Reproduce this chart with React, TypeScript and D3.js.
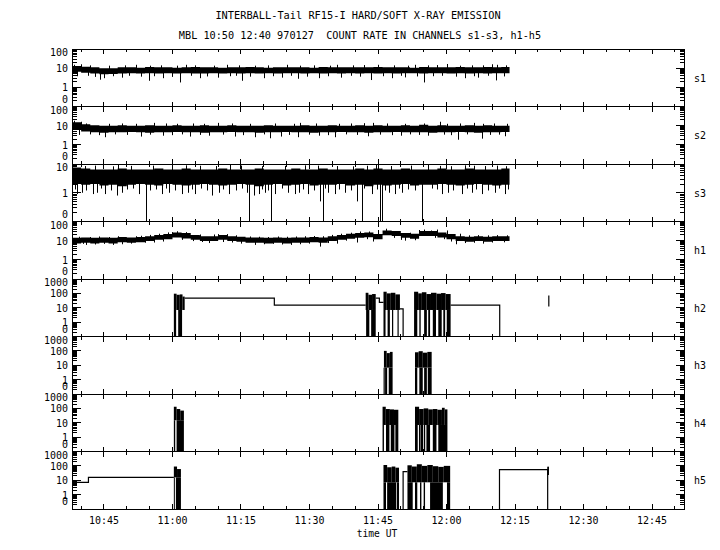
import React from 'react';
import * as d3 from 'd3';

// ---------- layout ----------
const W = 720, H = 550;
const PLOT = { left: 72, right: 684, top: 49, bottom: 509 };
const T_START = 38; // minutes after 10:00 UT
const T_END = 172;

// ---------- axes ----------
const panelNames = ['s1', 's2', 's3', 'h1', 'h2', 'h3', 'h4', 'h5'];
const panelTopExp = [2, 2, 1, 2, 3, 3, 3, 3];
const expLabels: Record<string, string> = { '-1': '0', '0': '1', '1': '10', '2': '100', '3': '1000' };
const majorTickMinutes = [45, 60, 75, 90, 105, 120, 135, 150, 165];
const majorTickLabels = ['10:45', '11:00', '11:15', '11:30', '11:45', '12:00', '12:15', '12:30', '12:45'];
const minorTickMinutes = [40, 50, 55, 65, 70, 80, 85, 95, 100, 110, 115, 125, 130, 140, 145, 155, 160, 170];

// ---------- noisy channels: envelope on a 2-minute grid ----------
const gridT = [38, 40, 42, 44, 46, 48, 50, 52, 54, 56,
  58, 60, 62, 64, 66, 68, 70, 72, 74, 76,
  78, 80, 82, 84, 86, 88, 90, 92, 94, 96,
  98, 100, 102, 104, 106, 108, 110, 112, 114, 116,
  118, 120, 122, 124, 126, 128, 130, 132, 133.8];

const s1Hi = [13, 12, 11, 10, 10, 11, 11, 10.5, 11.5, 11,
  11, 10.5, 11, 11.5, 11, 11, 10.5, 11, 11, 11.5,
  11, 10.5, 11, 11, 11, 11, 10.5, 11.5, 11, 11,
  11, 11, 11, 11.5, 11, 11, 11, 10.5, 11.5, 11,
  11, 11, 11.5, 11, 11, 11.5, 11, 11.5, 11.5];
const s1Lo = [6.5, 5.8, 5.2, 4.8, 5, 5.3, 5.5, 5.2, 5.5, 5.3,
  5.5, 5.2, 5.4, 5.3, 5.2, 5.5, 5.3, 5.5, 5.2, 5.5,
  5.2, 5.5, 5.3, 5.5, 5.5, 5.2, 5.5, 5.3, 5.5, 5.2,
  5.5, 5.2, 5.5, 5.3, 5.5, 5.2, 5.5, 5.5, 5.2, 5.5,
  5.5, 5.2, 5.5, 5.3, 5.5, 5.2, 5.5, 5.5, 5.5];
const s1WhiskT = [44.1, 45, 49, 54.9, 58, 61.6, 66, 70, 75.2, 80, 84, 87.5, 92, 97, 103.5, 108, 111, 115.1, 124, 127, 130.8,
  40, 52, 63, 72, 85, 96, 105, 113, 120, 129.9,
  39, 41.5, 43, 47, 50.5, 53, 56, 60, 64, 67.5, 72.6, 74, 77, 82, 86, 89.5, 94, 99, 101, 106, 110, 113.5, 117, 119, 122, 126, 129, 132.5,
  38.5, 42, 46, 49.5, 55, 57.5, 61, 65, 69, 74.5, 78, 81, 88, 91, 94.5, 99.5, 102, 108.5, 111.5, 116, 118, 123, 125.5, 128, 131, 133];
const s1WhiskV = [2.5, 3, 3.2, 2.2, 3, 1.8, 3, 3.2, 2.2, 3, 3.2, 2.8, 3, 3.2, 2.4, 3, 3.3, 1.8, 3, 3.2, 2.3,
  16, 15, 15, 15, 15, 15, 15, 15, 16.5, 16,
  3.8, 4, 3.5, 3.8, 4, 3.6, 3.8, 3.5, 4, 3.7, 3.8, 4, 3.6, 3.8, 4, 3.6, 3.8, 4, 3.6, 3.8, 4, 3.7, 3.8, 4, 3.6, 3.8, 4, 3.7,
  15, 14, 13.5, 14, 13.5, 14, 13.5, 14, 13.5, 14, 13.5, 14, 13.5, 14, 13.5, 14, 14.5, 14, 13.5, 14, 14.5, 13.5, 14, 14, 15, 14];

const s2Hi = [15, 12, 10.5, 10, 10, 10.5, 10, 10, 10.5, 10,
  10, 10.5, 10, 10, 10.5, 10, 10, 10.5, 10, 10,
  10, 10.5, 10, 10, 10, 10.5, 10, 10, 10.5, 10,
  10, 10.5, 10, 10.5, 10, 10, 10.5, 10, 11, 10,
  10.5, 10, 10, 10.5, 10, 10.5, 10, 10, 10];
const s2Lo = [6, 5, 4.5, 4.3, 4.5, 4.5, 4.7, 4.5, 4.3, 4.5,
  4.5, 4.7, 4.5, 4.5, 4.3, 4.5, 4.5, 4.7, 4.5, 4.5,
  4.3, 4.5, 4.5, 4.7, 4.5, 4.5, 4.3, 4.5, 4.5, 4.7,
  4.5, 4.5, 4.3, 4.5, 4.5, 4.7, 4.5, 4.5, 4.5, 4.3,
  4.5, 4.5, 4.7, 4.5, 4.3, 4.5, 4.5, 4.7, 4.5];
const s2WhiskT = [45.2, 53.2, 58, 63.8, 68, 73.6, 78, 81.3, 83.8, 87.5, 92, 95.5, 102.8, 110, 116, 122.5, 127.8, 132.8,
  38.5, 40, 56, 70, 88, 104, 118.6, 126,
  39.5, 42, 44, 47.5, 50, 55, 60, 62, 66, 71, 75.5, 80, 85.5, 90, 94, 98, 100.5, 105.5, 108, 112, 114, 119.5, 121, 124.5, 129.5, 131.5,
  41, 46, 49, 52, 58.5, 61, 64.5, 67, 73, 77, 82.5, 86.5, 91.5, 96.5, 99, 102, 107, 111, 115, 120, 123, 128, 130.5, 133.3];
const s2WhiskV = [2.5, 2.7, 3, 2.7, 3, 2.7, 2.5, 2.2, 2.7, 2.5, 3, 2.5, 2.8, 3, 3, 1.85, 2.1, 2.8,
  18, 16, 14, 14, 14, 14, 16, 14,
  3.3, 3.5, 3.2, 3.5, 3.3, 3.4, 3.2, 3.5, 3.3, 3.4, 3.2, 3.5, 3.3, 3.4, 3.2, 3.5, 3.3, 3.4, 3.2, 3.5, 3.3, 3.4, 3.2, 3.5, 3.3, 3.4,
  13, 12.5, 13, 12.5, 13, 12.5, 13, 12.5, 13, 12.5, 13, 12.5, 13, 12.5, 13, 13.5, 13, 12.5, 13, 12.5, 13, 12.5, 13, 12.5];

const s3Hi = [7.5, 7, 6.5, 6.5, 6.5, 7, 6.5, 6.5, 6.5, 7,
  6.5, 6.5, 7, 6.5, 6.5, 6.5, 7, 6.5, 6.5, 6.5,
  7, 6.5, 6.5, 6.5, 7, 6.5, 6.5, 7, 6.5, 6.5,
  6.5, 7, 6.5, 7, 6.5, 6.5, 7, 6.5, 6.5, 6.5,
  7, 6.5, 6.5, 7, 6.5, 6.5, 6.5, 7, 7];
const s3Lo = [2, 1.9, 2, 1.8, 1.9, 1.7, 1.9, 2, 1.9, 1.8,
  2, 1.9, 1.8, 1.9, 2, 1.9, 1.8, 1.9, 2, 1.9,
  1.7, 1.9, 2, 1.8, 1.9, 2, 1.8, 1.9, 1.9, 2,
  1.8, 1.9, 1.7, 1.9, 1.8, 1.9, 2, 1.8, 1.9, 1.9,
  2, 1.9, 1.8, 1.9, 2, 1.9, 1.8, 1.9, 1.9];
const s3WhiskT = [39.1, 40.2, 42.7, 43.5, 45.3, 47.9, 48.9, 52.6, 57.7, 59.2, 62.1, 63.5, 65, 68.7, 70.1, 72.3, 76.3, 77.8,
  78.9, 80.3, 82.5, 85.4, 86.9, 87.6, 89.7, 92.3, 94.1, 95.6, 97.8, 100.3, 103.6, 107.3, 108.7, 110.2, 114.6, 119,
  120.4, 123.3, 125.5, 127.7, 130.6, 132.8,
  54.2, 76.8, 81.6, 93.0, 101.4, 105.4, 105.8, 114.7,
  48, 63, 72.5, 89, 104.5, 116, 124,
  38.6, 41, 44.3, 46.5, 50, 51.3, 55, 56.3, 58.5, 60.5, 64.2, 66.3, 67.5, 71, 74, 75.2, 79.6, 81, 84, 88.5, 91, 93.5, 96.5, 99, 102, 104.8, 106.5, 109.5, 111.5, 113, 116.8, 118, 121.5, 124.5, 126.5, 129, 131.5, 133.4,
  40.8, 43, 47, 51, 55.8, 59.8, 66, 69.5, 75, 79.5, 84.7, 91.8, 96, 99.6, 102.7, 107.9, 112.2, 118.6, 121, 126, 128.5, 131, 133];
const s3WhiskV = [0.9, 1, 0.9, 1, 0.9, 0.8, 1, 0.9, 0.9, 1, 0.9, 1, 0.9, 0.8, 1, 0.9, 1, 0.8,
  0.9, 1, 0.9, 1, 0.9, 1, 0.9, 0.5, 1, 0.9, 1, 0.5, 0.9, 1, 0.9, 1, 0.9, 0.9,
  1, 0.9, 1, 0.9, 1, 0.9,
  0, 0, 0, 0, 0, 0, 0, 0,
  9.5, 9, 9.5, 9, 10, 9.5, 9,
  1.3, 1.2, 1.4, 1.2, 1.3, 1.4, 1.2, 1.3, 1.4, 1.2, 1.3, 1.4, 1.2, 1.3, 1.2, 1.4, 1.3, 1.2, 1.4, 1.3, 1.2, 1.4, 1.3, 1.2, 1.4, 1.3, 1.2, 1.4, 1.3, 1.2, 1.4, 1.3, 1.2, 1.4, 1.3, 1.2, 1.4, 1.3,
  8.5, 8.8, 8.3, 8.6, 8.8, 8.4, 8.7, 8.5, 8.8, 8.4, 8.6, 8.8, 8.5, 8.3, 8.7, 8.5, 8.8, 8.6, 8.4, 8.7, 8.5, 8.8, 8.4];

const h1Hi = [14, 14.5, 14, 14.5, 14, 15.5, 14.5, 15.5, 17, 20,
  22, 27, 25, 20, 17, 17, 20, 17, 16, 14.5,
  14.5, 14, 14.5, 14, 14.5, 14.5, 15.5, 14.5, 17, 20,
  23, 25, 27, 22, 34, 32, 25, 23, 32, 32,
  27, 22, 17, 16, 17, 16, 17, 17, 17];
const h1Lo = [7.2, 7.8, 7.2, 7.8, 7.2, 8.3, 7.8, 8.3, 9.5, 11,
  11.7, 14.5, 13, 11, 9.5, 9.5, 11, 9.5, 8.7, 7.8,
  7.8, 7.2, 7.8, 7.2, 7.8, 7.8, 8.3, 7.8, 9.5, 11,
  12.5, 14, 15, 11.7, 19, 17.5, 14, 12.5, 17.5, 17.5,
  14.5, 11.7, 9.5, 8.7, 9.5, 8.7, 9.5, 9.5, 9.5];
const h1WhiskT = [41, 47, 56, 68, 78, 86, 92.4, 96, 100.4, 104, 111, 122, 128, 52, 60, 70, 101, 106.8, 114, 116.5,
  38.6, 40.5, 43, 45, 49, 51, 54, 58, 62, 64.5, 66.5, 71, 73, 75, 80, 82, 84, 88, 90, 94, 98, 102.5, 108.5, 110, 113, 117.5, 119.5, 121, 124, 126, 130, 132.5,
  39.5, 42, 44, 46, 48, 53, 55, 57, 59, 61, 63, 66, 69, 72, 74, 77, 79, 81, 83, 85, 87, 89, 91, 93, 95, 97, 99, 103, 105, 109, 112, 115, 118, 120, 123, 125, 127, 129, 131, 133.3];
const h1WhiskV = [6, 6, 8, 7.5, 6, 6, 4.9, 7, 8, 9, 10, 6.5, 7, 17, 28, 22, 30, 42, 36, 34,
  6.5, 6.8, 6.3, 6.8, 6.5, 7, 7.8, 9, 11, 9.5, 8.5, 8.5, 8, 7, 6.5, 6.8, 6.3, 6.5, 7, 7.5, 10, 12, 14, 11, 10.5, 14, 12, 9, 7.5, 7.8, 8, 8.2,
  16, 15.5, 16.5, 15.5, 17, 18, 20, 23, 27, 31, 28, 21, 21, 22, 19, 16.5, 16, 15.5, 16.5, 16, 16.5, 17, 17.5, 17, 20, 23, 26, 30, 36, 30, 26, 38, 38, 34, 23, 19, 19.5, 19, 19.5, 19];

// ---------- burst channels: filled blocks [t0, t1, lo, hi] ----------
const h2BlockT0 = [60.3, 60.9, 61.6, 62.2, 60.3, 61.25,
  102.3, 102.9, 103.7, 102.4, 103.5,
  106.2, 106.9, 107.8, 108.8, 106.2, 107.1,
  112.9, 113.8, 114.6, 115.6, 116.6, 117.8, 118.8, 119.8,
  112.9, 114.05, 115.1, 116.0, 117.0, 118.2, 119.3, 120.05];
const h2BlockT1 = [60.9, 61.6, 62.2, 62.67, 60.8, 62.1,
  102.9, 103.7, 104.5, 103.1, 104.5,
  106.9, 107.8, 108.8, 109.8, 106.65, 107.6,
  113.8, 114.6, 115.6, 116.6, 117.8, 118.8, 119.8, 120.9,
  113.6, 114.35, 115.7, 116.4, 117.7, 118.95, 119.7, 120.9];
const h2BlockLo = [7, 7, 7, 7, 0, 0,
  7, 7, 7, 0, 0,
  7, 7, 7, 7, 0, 0,
  7, 7, 7, 7, 7, 7, 7, 7,
  0, 0, 0, 0, 0, 0, 0, 0];
const h2BlockHi = [95, 80, 85, 60, 7, 7,
  110, 80, 90, 7, 7,
  130, 100, 110, 85, 7, 7,
  130, 100, 120, 90, 110, 95, 105, 90,
  7, 7, 7, 7, 7, 7, 7, 7];
// step lines (null breaks a line)
const h2LineT = [62.67, 82.3, 102.3, null, 104.5, 105.3, 106.2, null, 109.8, 110.5, null, 120.9, 131.65];
const h2LineV = [46, 15, 15, null, 46, 24, 24, null, 8.3, 0, null, 15, 0];
const h2ThinT = [108.2, 109.4, 142.4];
const h2ThinLo = [0, 0, 12];
const h2ThinHi = [7, 7, 70];

const h3BlockT0 = [106.3, 106.9, 107.6, 106.55, 107.35,
  113.1, 113.9, 114.8, 115.8, 113.1, 114.05, 115.1, 115.9];
const h3BlockT1 = [106.9, 107.6, 108.2, 107.0, 108.2,
  113.9, 114.8, 115.8, 116.75, 113.6, 114.8, 115.7, 116.75];
const h3BlockLo = [6.8, 6.8, 6.8, 0, 0, 6.8, 6.8, 6.8, 6.8, 0, 0, 0, 0];
const h3BlockHi = [100, 70, 85, 6.8, 6.8, 80, 95, 75, 85, 6.8, 6.8, 6.8, 6.8];
const h3ThinT = [106.35];
const h3ThinLo = [0];
const h3ThinHi = [6.8];

const h4BlockT0 = [60.3, 60.9, 61.7, 60.3, 60.9,
  106.0, 106.7, 107.6, 108.5, 106.0, 106.75, 107.8, 108.8,
  113.1, 114.0, 115.0, 116.0, 117.0, 118.0, 119.0, 119.6,
  113.1, 114.3, 115.6, 117.0, 118.2];
const h4BlockT1 = [60.9, 61.7, 62.5, 60.6, 62.5,
  106.7, 107.6, 108.5, 109.45, 106.3, 107.5, 108.6, 109.45,
  114.0, 115.0, 116.0, 117.0, 118.0, 119.0, 119.6, 120.2,
  113.7, 114.9, 116.4, 117.8, 120.2];
const h4BlockLo = [15, 15, 15, 0, 0,
  7, 7, 7, 7, 0, 0, 0, 0,
  7, 7, 7, 7, 7, 7, 7, 7,
  0, 0, 0, 0, 0];
const h4BlockHi = [130, 90, 70, 15, 15,
  130, 90, 85, 80, 7, 7, 7, 7,
  130, 90, 100, 85, 90, 80, 110, 85,
  7, 7, 7, 7, 7];
const h4ThinT = [114.1, 115.2, 118.6];
const h4ThinLo = [0, 0, 7];
const h4ThinHi = [7, 7, 7];

const h5BlockT0 = [60.3, 61.0, 60.3, 60.75,
  106.2, 107.0, 108.0, 108.8, 106.2, 107.0, 109.1,
  111.45, 112.4, 113.5, 114.6, 115.8, 117.0, 118.2, 119.4,
  111.45, 113.1, 114.2, 115.0, 116.4, 120.1];
const h5BlockT1 = [61.0, 61.85, 60.5, 61.85,
  107.0, 108.0, 108.8, 109.6, 106.75, 108.95, 109.6,
  112.4, 113.5, 114.6, 115.8, 117.0, 118.2, 119.4, 120.8,
  112.6, 113.6, 114.5, 115.3, 119.2, 120.8];
const h5BlockLo = [16, 16, 0, 0,
  7.2, 7.2, 7.2, 7.2, 0, 0, 0,
  7.2, 7.2, 7.2, 7.2, 7.2, 7.2, 7.2, 7.2,
  0, 0, 0, 0, 0, 0];
const h5BlockHi = [90, 60, 16, 16,
  115, 80, 90, 75, 7.2, 7.2, 7.2,
  110, 90, 130, 100, 115, 95, 85, 100,
  7.2, 7.2, 7.2, 7.2, 7.2, 7.2];
const h5LineT = [38, 41.6, 60.3, null, 110.5, 110.5, 111.45, null, 131.6, 131.6, 142.15];
const h5LineV = [7.2, 16, 16, null, 0, 40, 40, null, 0, 55, 0];
const h5ThinT = [142.2, 142.3];
const h5ThinLo = [23, 23];
const h5ThinHi = [88, 88];

// ---------- build tables ----------
type Band = { t: number; lo: number; hi: number };
const mkBand = (lo: number[], hi: number[]): Band[] =>
  gridT.map((t, i) => ({ t, lo: lo[i], hi: hi[i] }));
const mkPts = (t: number[], v: number[]) => t.map((tt, i) => ({ t: tt, v: v[i] }));
const mkBlocks = (t0: number[], t1: number[], lo: number[], hi: number[]) =>
  t0.map((a, i) => ({ t0: a, t1: t1[i], lo: lo[i], hi: hi[i] }));
const mkThin = (t: number[], lo: number[], hi: number[]) => t.map((a, i) => ({ t: a, lo: lo[i], hi: hi[i] }));
const mkLine = (t: (number | null)[], v: (number | null)[]) => t.map((a, i) => ({ t: a, v: v[i] }));

const channelData: Record<string, any> = {
  s1: { band: mkBand(s1Lo, s1Hi), whisk: mkPts(s1WhiskT, s1WhiskV) },
  s2: { band: mkBand(s2Lo, s2Hi), whisk: mkPts(s2WhiskT, s2WhiskV) },
  s3: { band: mkBand(s3Lo, s3Hi), whisk: mkPts(s3WhiskT, s3WhiskV) },
  h1: { band: mkBand(h1Lo, h1Hi), whisk: mkPts(h1WhiskT, h1WhiskV) },
  h2: { blocks: mkBlocks(h2BlockT0, h2BlockT1, h2BlockLo, h2BlockHi), line: mkLine(h2LineT, h2LineV), thin: mkThin(h2ThinT, h2ThinLo, h2ThinHi) },
  h3: { blocks: mkBlocks(h3BlockT0, h3BlockT1, h3BlockLo, h3BlockHi), thin: mkThin(h3ThinT, h3ThinLo, h3ThinHi) },
  h4: { blocks: mkBlocks(h4BlockT0, h4BlockT1, h4BlockLo, h4BlockHi), thin: mkThin(h4ThinT, h4ThinLo, h4ThinHi) },
  h5: { blocks: mkBlocks(h5BlockT0, h5BlockT1, h5BlockLo, h5BlockHi), line: mkLine(h5LineT, h5LineV), thin: mkThin(h5ThinT, h5ThinLo, h5ThinHi) },
};

const FONT = 'DejaVu Sans Mono';

function Txt(props: { x: number; y: number; s: string; anchor?: string; cw?: number; size?: number }) {
  const cw = props.cw ?? 6;
  return (
    <text x={props.x} y={props.y} textAnchor={props.anchor ?? 'start'} fontFamily={FONT}
      fontSize={props.size ?? 11} textLength={props.s.length * cw} lengthAdjust="spacingAndGlyphs" fill="#000"
      style={{ whiteSpace: 'pre' }}>
      {props.s}
    </text>
  );
}

export default function App() {
  const x = d3.scaleLinear().domain([T_START, T_END]).range([PLOT.left, PLOT.right]);
  const ph = (PLOT.bottom - PLOT.top) / panelNames.length;
  const out: React.ReactNode[] = [];

  panelNames.forEach((name, i) => {
    const top = PLOT.top + i * ph;
    const bottom = top + ph;
    const exp = panelTopExp[i];
    const y = d3.scaleLog().domain([0.1, Math.pow(10, exp)]).range([bottom, top]);
    const yv = (v: number) => y(Math.max(v, 0.1));
    const g: React.ReactNode[] = [];

    // frame
    g.push(<rect key="fr" x={PLOT.left} y={top} width={PLOT.right - PLOT.left} height={ph} fill="none" stroke="#000" strokeWidth={1} shapeRendering="crispEdges" />);

    // y ticks
    for (let e = -1; e <= exp; e++) {
      const yy = y(Math.pow(10, e));
      g.push(<line key={'ml' + e} x1={PLOT.left} x2={PLOT.left + 9} y1={yy} y2={yy} stroke="#000" shapeRendering="crispEdges" />);
      g.push(<line key={'mr' + e} x1={PLOT.right - 8} x2={PLOT.right} y1={yy} y2={yy} stroke="#000" shapeRendering="crispEdges" />);
      const lab = expLabels[String(e)];
      let ly = yy + 4;
      if (e === exp) ly = top + 7;
      if (e === -1) ly = bottom - 4;
      g.push(<Txt key={'yl' + e} x={68} y={ly} s={lab} anchor="end" size={10.5} />);
      if (e < exp) {
        for (let k = 2; k <= 9; k++) {
          const v = k * Math.pow(10, e);
          const ym = y(v);
          g.push(<line key={'nl' + e + k} x1={PLOT.left} x2={PLOT.left + 5} y1={ym} y2={ym} stroke="#000" shapeRendering="crispEdges" />);
          g.push(<line key={'nr' + e + k} x1={PLOT.right - 4} x2={PLOT.right} y1={ym} y2={ym} stroke="#000" shapeRendering="crispEdges" />);
        }
      }
    }
    // x ticks on top and bottom edges
    majorTickMinutes.forEach((t) => {
      const xx = x(t);
      g.push(<line key={'xt' + t} x1={xx} x2={xx} y1={top} y2={top + 5} stroke="#000" shapeRendering="crispEdges" />);
      g.push(<line key={'xb' + t} x1={xx} x2={xx} y1={bottom - 5} y2={bottom} stroke="#000" shapeRendering="crispEdges" />);
    });
    minorTickMinutes.forEach((t) => {
      const xx = x(t);
      g.push(<line key={'xnt' + t} x1={xx} x2={xx} y1={top} y2={top + 3} stroke="#000" shapeRendering="crispEdges" />);
      g.push(<line key={'xnb' + t} x1={xx} x2={xx} y1={bottom - 3} y2={bottom} stroke="#000" shapeRendering="crispEdges" />);
    });

    // panel name
    g.push(<Txt key="pn" x={694} y={(top + bottom) / 2 + 4} s={name} />);

    const d = channelData[name];
    if (d.band) {
      const band: Band[] = d.band;
      const area = d3.area<Band>().x((p) => x(p.t)).y0((p) => yv(p.lo)).y1((p) => yv(p.hi)).curve(d3.curveStepAfter);
      g.push(<path key="band" d={area(band) || ''} fill="#000" stroke="none" />);
      d.whisk.forEach((w: { t: number; v: number }, j: number) => {
        let idx = d3.bisectRight(gridT, w.t) - 1;
        idx = Math.max(0, Math.min(band.length - 1, idx));
        const mid = Math.sqrt(band[idx].lo * band[idx].hi);
        const xx = Math.round(x(w.t)) + 0.5;
        g.push(<line key={'w' + j} x1={xx} x2={xx} y1={yv(mid)} y2={yv(w.v)} stroke="#000" strokeWidth={1} />);
      });
    }
    if (d.blocks) {
      d.blocks.forEach((b: any, j: number) => {
        g.push(<rect key={'b' + j} x={x(b.t0)} y={yv(b.hi)} width={Math.max(1, x(b.t1) - x(b.t0))} height={yv(b.lo) - yv(b.hi)} fill="#000" />);
      });
    }
    if (d.line) {
      const ln = d3.line<any>().defined((p) => p.t !== null && p.v !== null).x((p) => x(p.t)).y((p) => yv(p.v)).curve(d3.curveStepAfter);
      g.push(<path key="ln" d={ln(d.line) || ''} fill="none" stroke="#000" strokeWidth={1.2} />);
    }
    if (d.thin) {
      d.thin.forEach((s: any, j: number) => {
        const xx = x(s.t);
        g.push(<line key={'th' + j} x1={xx} x2={xx} y1={yv(s.lo)} y2={yv(s.hi)} stroke="#000" strokeWidth={1.2} />);
      });
    }
    out.push(<g key={name}>{g}</g>);
  });

  return (
    <svg width={W} height={H} viewBox={`0 0 ${W} ${H}`} style={{ position: 'absolute', left: 0, top: 0, background: '#fff' }}>
      <rect x={0} y={0} width={W} height={H} fill="#fff" />
      <Txt x={358} y={18.5} s="INTERBALL-Tail RF15-I HARD/SOFT X-RAY EMISSION" anchor="middle" cw={6.2} />
      <Txt x={360} y={39} s="MBL 10:50 12:40 970127  COUNT RATE IN CHANNELS s1-s3, h1-h5" anchor="middle" cw={6.14} />
      {out}
      {majorTickMinutes.map((t, i) => (
        <Txt key={'xl' + t} x={x(t)} y={524} s={majorTickLabels[i]} anchor="middle" />
      ))}
      <Txt x={377} y={537} s="time UT" anchor="middle" cw={5.8} />
    </svg>
  );
}
